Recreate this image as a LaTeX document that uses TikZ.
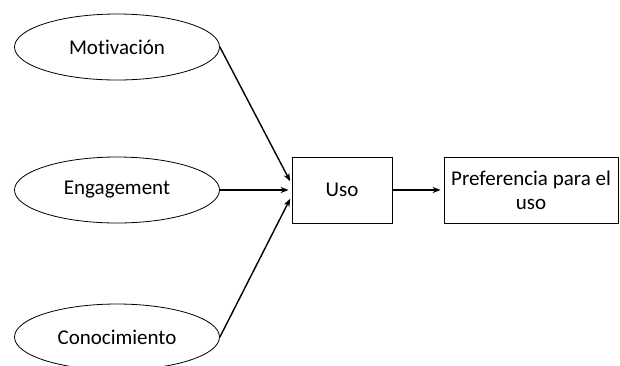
\documentclass[tikz,border=0pt]{standalone}
\usepackage{fontspec}
\setmainfont[Ligatures=NoCommon]{Carlito}
\usetikzlibrary{shapes.geometric,positioning,arrows.meta}

\begin{document}
\begin{tikzpicture}[x=1pt,y=1pt,on grid,auto,shorten >=3pt,
    font=\fontsize{21}{24}\selectfont,
    factor/.style={ellipse,draw,line width=0.8pt,minimum width=205pt,minimum height=66pt,inner sep=0pt},
    bloque/.style={rectangle,draw,line width=0.8pt,minimum height=66pt,inner sep=0pt,align=center},
    flecha/.style={-{Stealth[length=8pt,width=6pt]},line width=1.4pt}]
            \useasboundingbox (0,0) rectangle (620,-365);
            \node[factor] (motivacion) at (117,-47) {Motivación};
            \node[factor, below=143pt of motivacion] (engagement) {Engagement};
            \node[factor, below=147pt of engagement] (conocimiento) {Conocimiento};
            \node[bloque, minimum width=100pt, right=225pt of engagement] (uso) {Uso};
            \node[bloque, minimum width=174pt, right=189pt of uso] (preferencia) {Preferencia para el\\uso};
            \path[flecha] 
            (motivacion.east) edge ([yshift=6pt]uso.west)
            (engagement.east) edge (uso.west)
            (conocimiento.east) edge ([yshift=-6pt]uso.west)
            (uso) edge (preferencia);
        \end{tikzpicture}
\end{document}
